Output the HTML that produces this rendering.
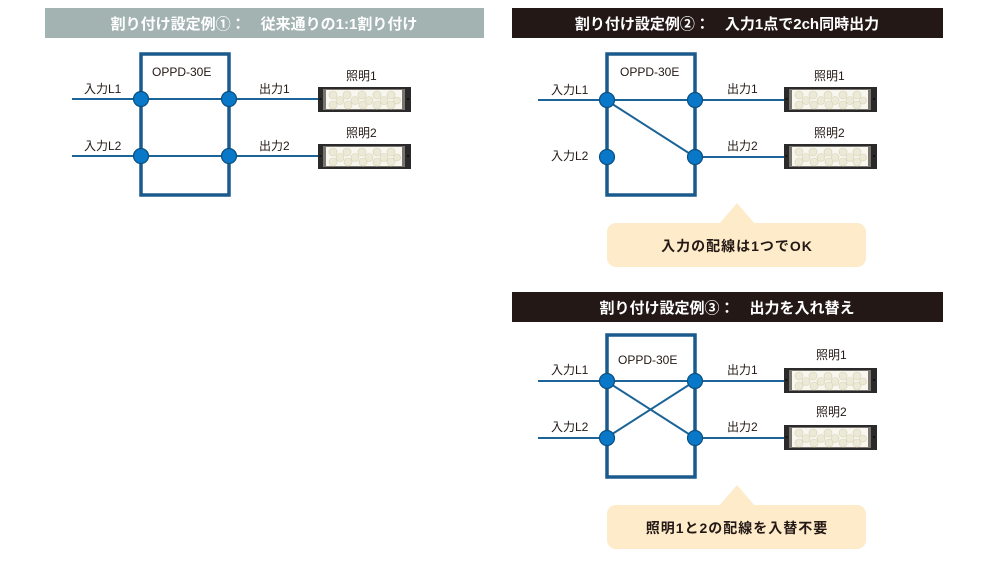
<!DOCTYPE html>
<html><head><meta charset="utf-8">
<style>
html,body{margin:0;padding:0;background:#fff;}
body{width:1000px;height:559px;overflow:hidden;}
svg text{font-family:"Liberation Sans","Noto Sans CJK JP",sans-serif;}
</style></head><body>
<svg width="1000" height="559" viewBox="0 0 1000 559" xmlns="http://www.w3.org/2000/svg">
<defs>
<g id="light">
  <rect x="0" y="0" width="93" height="25" fill="#2a2a2a"/>
  <rect x="5" y="2" width="82" height="21" fill="#7a736e"/>
  <rect x="8" y="3" width="76" height="19" fill="#f7f6ef"/>
  <g fill="#ece9d6" stroke="#d6d1b5" stroke-width="0.6">
    <circle cx="15" cy="8" r="4"/><circle cx="29" cy="8" r="4"/><circle cx="44" cy="8" r="4"/><circle cx="59" cy="8" r="4"/><circle cx="73" cy="8" r="4"/>
    <circle cx="22" cy="13.5" r="4"/><circle cx="37" cy="13.5" r="4"/><circle cx="51" cy="13.5" r="4"/><circle cx="66" cy="13.5" r="4"/><circle cx="79" cy="13.5" r="3.5"/>
    <circle cx="15" cy="18" r="4"/><circle cx="30" cy="18" r="4"/><circle cx="45" cy="18" r="4"/><circle cx="59" cy="18" r="4"/><circle cx="73" cy="18" r="4"/>
  </g>
  <rect x="1.5" y="11" width="2" height="2" fill="#111"/>
  <rect x="89" y="11" width="2" height="2" fill="#111"/>
</g>
</defs>

<rect x="45" y="8" width="439" height="30" fill="#a3b3b1"/>
<text x="264" y="29" text-anchor="middle" font-size="15" font-weight="bold" fill="#fff">割り付け設定例①：　従来通りの1:1割り付け</text>
<rect x="512" y="8" width="431" height="30" fill="#231815"/>
<text x="727" y="29" text-anchor="middle" font-size="15" font-weight="bold" fill="#fff">割り付け設定例②：　入力1点で2ch同時出力</text>
<rect x="512" y="292" width="431" height="30" fill="#231815"/>
<text x="727" y="313" text-anchor="middle" font-size="15" font-weight="bold" fill="#fff">割り付け設定例③：　出力を入れ替え</text>

<g stroke="#1c6497" fill="none">
<line x1="72" y1="99" x2="318" y2="99" stroke-width="2"/>
<line x1="72" y1="156" x2="318" y2="156" stroke-width="2"/>
<rect x="141" y="54" width="88" height="141" stroke-width="3.5" stroke="#1a5a8c"/>
<line x1="538" y1="100" x2="786" y2="100" stroke-width="2"/>
<line x1="695" y1="157" x2="786" y2="157" stroke-width="2"/>
<line x1="606" y1="100" x2="695" y2="157" stroke-width="2"/>
<rect x="607" y="54" width="88" height="141" stroke-width="3.5" stroke="#1a5a8c"/>
<line x1="538" y1="381" x2="786" y2="381" stroke-width="2"/>
<line x1="538" y1="438" x2="607" y2="438" stroke-width="2"/>
<line x1="695" y1="438" x2="786" y2="438" stroke-width="2"/>
<line x1="606" y1="381" x2="695" y2="438" stroke-width="2"/>
<line x1="606" y1="438" x2="695" y2="381" stroke-width="2"/>
<rect x="607" y="335" width="88" height="142" stroke-width="3.5" stroke="#1a5a8c"/>
</g>

<g fill="#0a78c8" stroke="#0b4f80" stroke-width="1.2">
<circle cx="141" cy="99" r="7.5"/><circle cx="229" cy="99" r="7.5"/>
<circle cx="141" cy="156" r="7.5"/><circle cx="229" cy="156" r="7.5"/>
<circle cx="607" cy="100" r="7.5"/><circle cx="695" cy="100" r="7.5"/>
<circle cx="607" cy="157" r="7.5"/><circle cx="695" cy="157" r="7.5"/>
<circle cx="607" cy="381" r="7.5"/><circle cx="695" cy="381" r="7.5"/>
<circle cx="607" cy="438" r="7.5"/><circle cx="695" cy="438" r="7.5"/>
</g>

<use href="#light" x="318" y="87"/>
<use href="#light" x="318" y="144"/>
<use href="#light" x="784" y="87"/>
<use href="#light" x="784" y="144"/>
<use href="#light" x="784" y="368"/>
<use href="#light" x="784" y="425"/>

<g font-size="12" fill="#231815">
<text x="152" y="76">OPPD-30E</text>
<text x="84" y="93">入力L1</text>
<text x="84" y="150">入力L2</text>
<text x="259" y="93">出力1</text>
<text x="259" y="150">出力2</text>
<text x="346" y="80">照明1</text>
<text x="346" y="137">照明2</text>

<text x="620" y="76">OPPD-30E</text>
<text x="551" y="94">入力L1</text>
<text x="551" y="160">入力L2</text>
<text x="727" y="93">出力1</text>
<text x="727" y="150">出力2</text>
<text x="814" y="80">照明1</text>
<text x="814" y="137">照明2</text>

<text x="618" y="364">OPPD-30E</text>
<text x="551" y="374">入力L1</text>
<text x="551" y="431">入力L2</text>
<text x="727" y="374">出力1</text>
<text x="727" y="431">出力2</text>
<text x="816" y="359">照明1</text>
<text x="816" y="416">照明2</text>
</g>

<g fill="#fdebc9">
<path d="M737 203 L755 224 L719 224 Z"/>
<rect x="607" y="223" width="259" height="44" rx="9"/>
<path d="M737 485 L755 506 L719 506 Z"/>
<rect x="607" y="505" width="259" height="44" rx="9"/>
</g>
<text x="737" y="251" text-anchor="middle" font-size="14" font-weight="bold" fill="#231815" letter-spacing="1">入力の配線は1つでOK</text>
<text x="737" y="533" text-anchor="middle" font-size="14" font-weight="bold" fill="#231815" letter-spacing="1">照明1と2の配線を入替不要</text>
</svg>
</body></html>
